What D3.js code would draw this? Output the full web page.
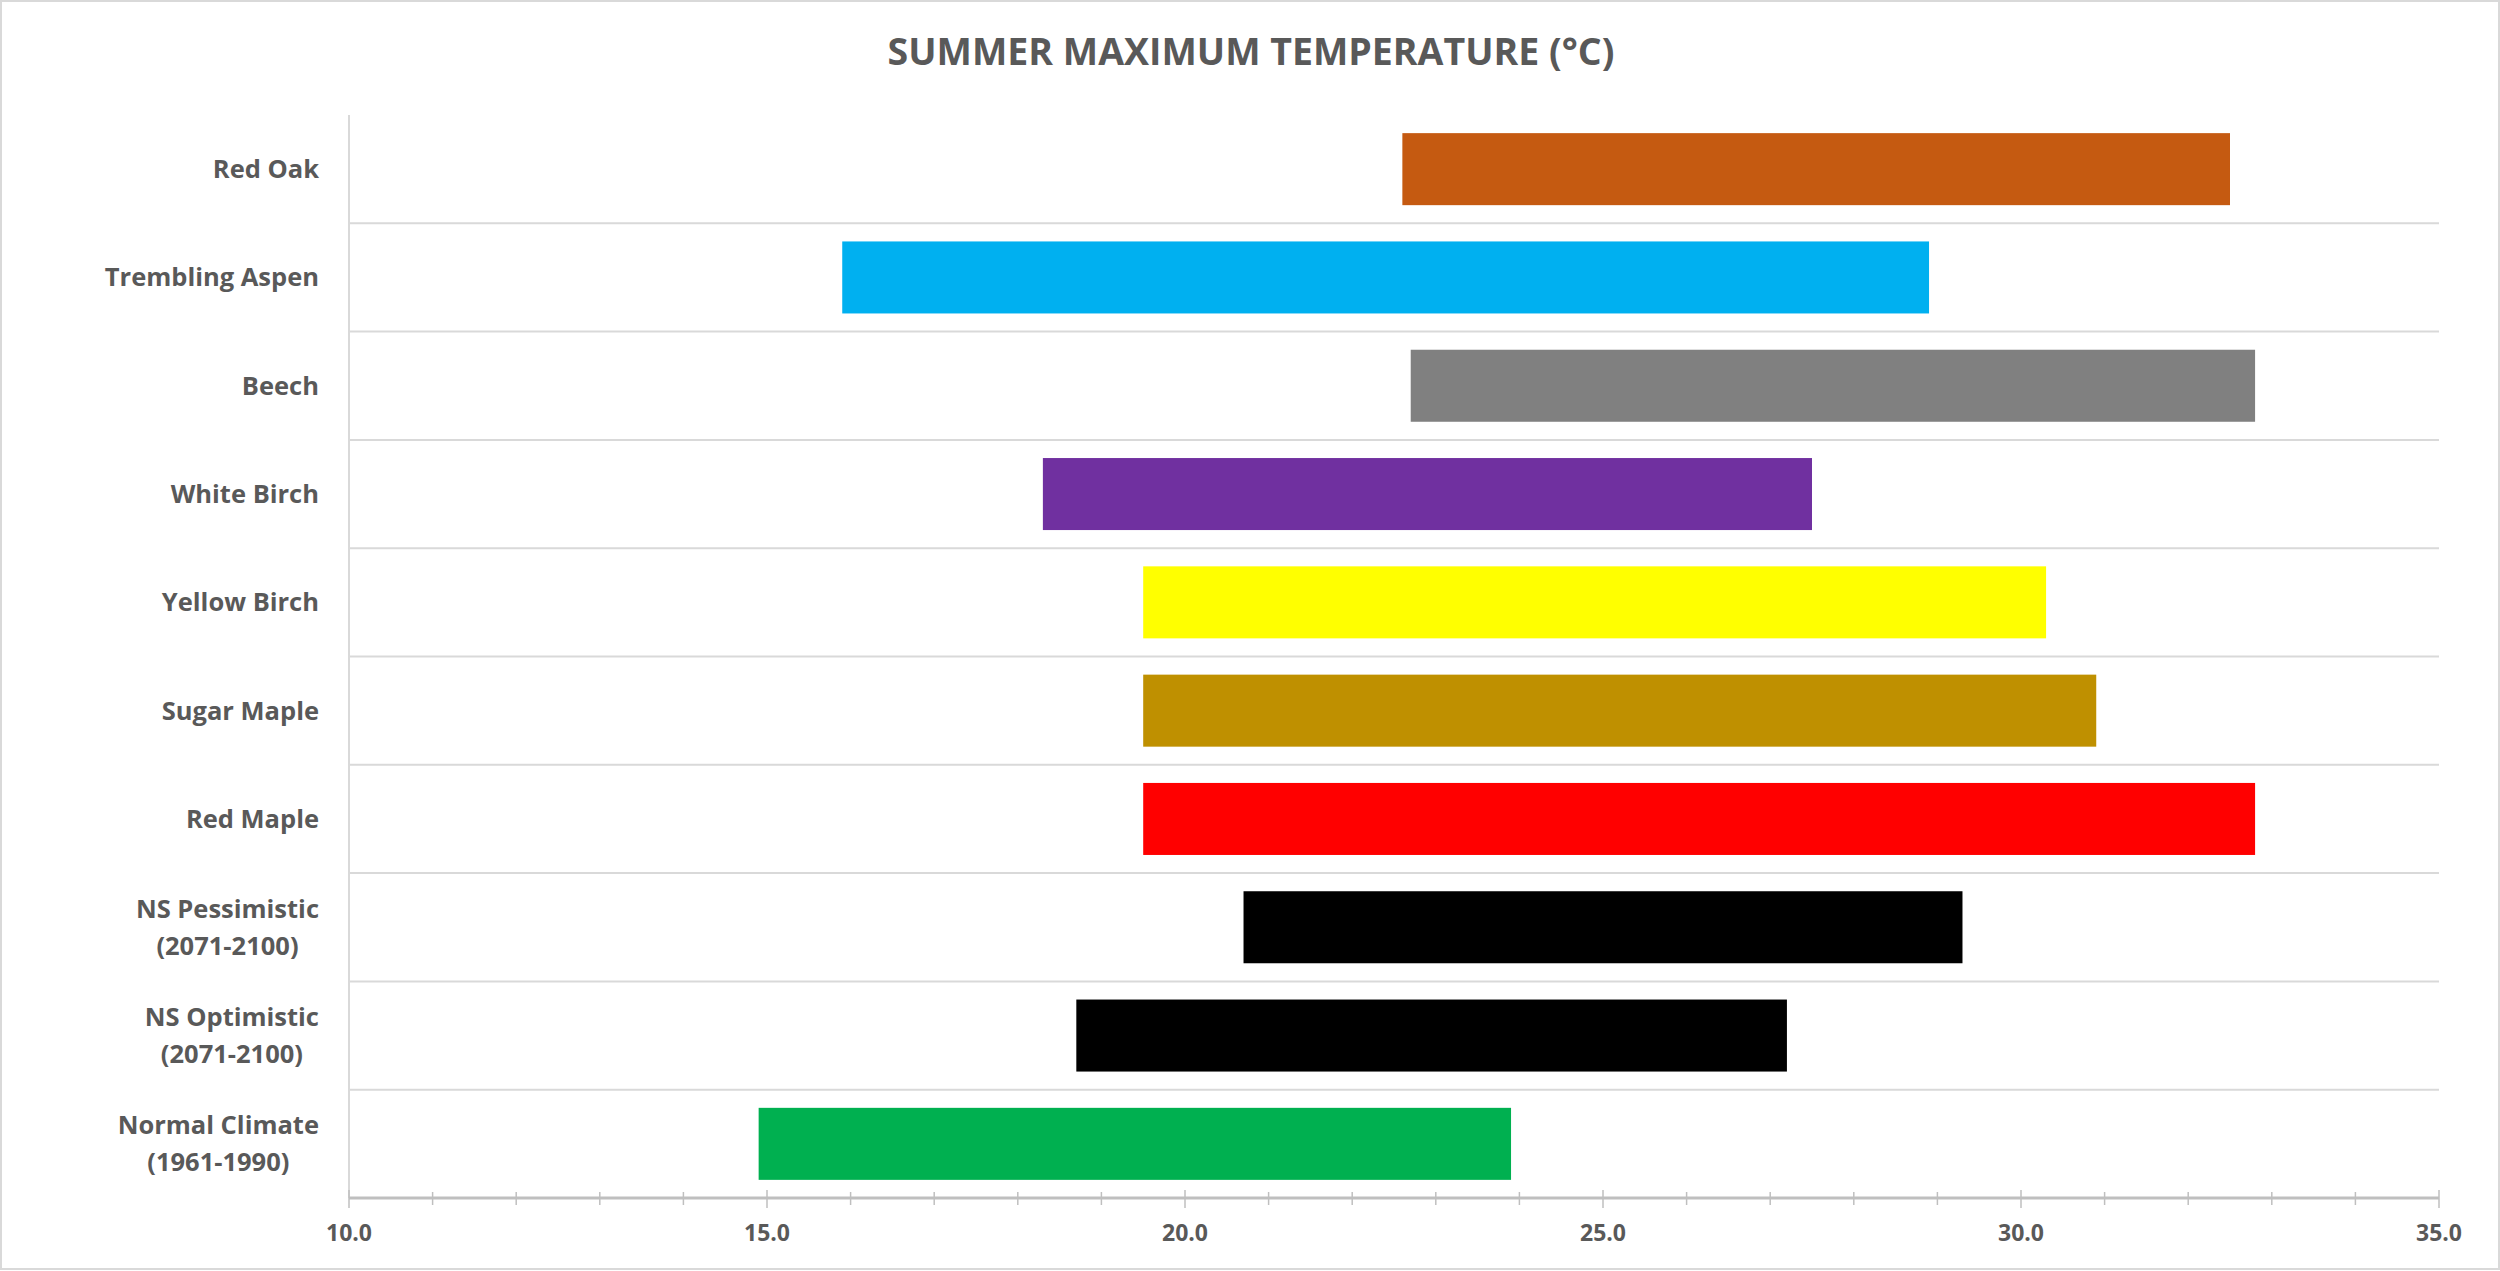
<!DOCTYPE html>
<html>
<head>
<meta charset="utf-8">
<script src="https://cdn.jsdelivr.net/npm/d3@7"></script>
<style>
  body { margin: 0; background: #fff; }
  text { font-family: "Open Sans", "Noto Sans", sans-serif; font-weight: bold; fill: #595959; }
</style>
</head>
<body>
<div id="chart"></div>
<script>
// categories, top to bottom
var species = ["Red Oak", "Trembling Aspen", "Beech", "White Birch", "Yellow Birch",
  "Sugar Maple", "Red Maple", "NS Pessimistic\n(2071-2100)", "NS Optimistic\n(2071-2100)",
  "Normal Climate\n(1961-1990)"];
// range start / end (°C)
var t_min = [22.6, 15.9, 22.7, 18.3, 19.5, 19.5, 19.5, 20.7, 18.7, 14.9];
var t_max = [32.5, 28.9, 32.8, 27.5, 30.3, 30.9, 32.8, 29.3, 27.2, 23.9];
var bar_colors = ["#c55a11", "#00b0f0", "#808080", "#7030a0", "#ffff00",
  "#bf9000", "#ff0000", "#000000", "#000000", "#00b050"];
var x_ticks = [10, 15, 20, 25, 30, 35];
var title = "SUMMER MAXIMUM TEMPERATURE (°C)";

var w = 2500, h = 1271;
var marges = {left: 349, right: 61, top: 115, bottom: 73};
var graf_w = w - marges.left - marges.right;
var graf_h = h - marges.top - marges.bottom;

var data = species.map(function(s, i) {
  return {name: s, lo: t_min[i], hi: t_max[i], color: bar_colors[i]};
});

var svg0 = d3.select("#chart").append("svg")
  .attr("width", w)
  .attr("height", h);

// outer frame
svg0.append("rect")
  .attr("x", 1).attr("y", 1)
  .attr("width", w - 2).attr("height", h - 3)
  .attr("fill", "#fff")
  .attr("stroke", "#d9d9d9")
  .attr("stroke-width", 2);

svg0.append("text")
  .attr("x", w / 2 + 1)
  .attr("y", 65)
  .attr("text-anchor", "middle")
  .style("font-size", "37.5px")
  .text(title);

var svg = svg0.append("g")
  .attr("transform", "translate(" + marges.left + "," + marges.top + ")");

var x = d3.scaleLinear().domain([10, 35]).range([0, graf_w]);
var pad = 0.335;
var y = d3.scaleBand()
  .domain(species)
  .range([0, graf_h])
  .paddingInner(pad)
  .paddingOuter(pad / 2);

// row separators
var gap = (y.step() - y.bandwidth()) / 2;
svg.append("g").selectAll("line")
  .data(species.slice(1))
  .enter().append("line")
  .attr("x1", 0).attr("x2", graf_w)
  .attr("y1", function(d) { return y(d) - gap; })
  .attr("y2", function(d) { return y(d) - gap; })
  .attr("stroke", "#d9d9d9")
  .attr("stroke-width", 2);

// left axis line
svg.append("line")
  .attr("x1", 0).attr("x2", 0)
  .attr("y1", 0).attr("y2", graf_h)
  .attr("stroke", "#d9d9d9")
  .attr("stroke-width", 2);

// bars
svg.append("g").selectAll("rect")
  .data(data)
  .enter().append("rect")
  .attr("x", function(d) { return x(d.lo); })
  .attr("y", function(d) { return y(d.name); })
  .attr("width", function(d) { return x(d.hi) - x(d.lo); })
  .attr("height", y.bandwidth())
  .attr("fill", function(d) { return d.color; });

// <-- X AXIS -------------
var minor = d3.range(10, 35.01, 1);
var xaxis = svg.append("g").attr("transform", "translate(0," + graf_h + ")");
xaxis.selectAll(".minor")
  .data(minor)
  .enter().append("line")
  .attr("class", "minor")
  .attr("x1", function(d) { return x(d); })
  .attr("x2", function(d) { return x(d); })
  .attr("y1", function(d) { return d % 5 == 0 ? -8 : -6; })
  .attr("y2", function(d) { return d % 5 == 0 ? 10 : 7; })
  .attr("stroke", "#bfbfbf")
  .attr("stroke-width", 1.5);
xaxis.append("line")
  .attr("x1", 0).attr("x2", graf_w)
  .attr("y1", 0).attr("y2", 0)
  .attr("stroke", "#bfbfbf")
  .attr("stroke-width", 3);
xaxis.selectAll(".tlab")
  .data(x_ticks)
  .enter().append("text")
  .attr("class", "tlab")
  .attr("x", function(d) { return x(d); })
  .attr("y", 43)
  .attr("text-anchor", "middle")
  .style("font-size", "23px")
  .text(function(d) { return d3.format(".1f")(d); });
// -- X AXIS ------------->

// <-- CATEGORY LABELS -------------
var lab_right = -30;
species.forEach(function(s) {
  var lines = s.split("\n");
  var cy = y(s) + y.bandwidth() / 2;
  var g = svg.append("g");
  var lh = 37;
  var texts = lines.map(function(l, k) {
    return g.append("text")
      .attr("y", cy + (k - (lines.length - 1) / 2) * lh)
      .attr("dy", "0.35em")
      .attr("text-anchor", "middle")
      .style("font-size", "25.5px")
      .text(l);
  });
  var maxw = d3.max(texts, function(t) { return t.node().getComputedTextLength(); });
  texts.forEach(function(t) { t.attr("x", lab_right - maxw / 2); });
});
// -- CATEGORY LABELS ------------->
</script>
</body>
</html>
